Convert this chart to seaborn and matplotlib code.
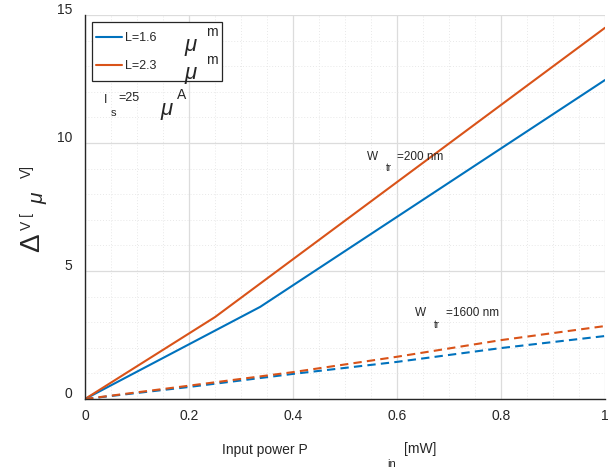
import matplotlib
matplotlib.use("Agg")
import matplotlib.pyplot as plt
from matplotlib.lines import Line2D
from matplotlib.patches import Rectangle
from matplotlib.transforms import ScaledTranslation
import numpy as np
import pandas as pd
import seaborn as sns

# ─── Data ────────────────────────────────────────────────────
p_w200_l16  = [0.0, 0.337, 1.0]
dv_w200_l16 = [0.0, 3.60, 12.46]
p_w200_l23  = [0.0, 0.25, 1.0]
dv_w200_l23 = [0.0, 3.20, 14.50]

p_w1600     = [0.0, 0.2, 0.4, 0.6, 0.8, 1.0]
dv_w1600_l16 = [0.0, 0.47, 0.98, 1.45, 1.99, 2.46]
dv_w1600_l23 = [0.0, 0.52, 1.05, 1.65, 2.30, 2.85]

x_ticks = [0, 0.2, 0.4, 0.6, 0.8, 1]
x_tick_labels = ["0", "0.2", "0.4", "0.6", "0.8", "1"]
y_ticks = [0, 5, 10, 15]
y_tick_labels = ["0", "5", "10", "15"]

BLUE   = "#0072BD"
ORANGE = "#D95319"
W, H = 615, 468

sns.set_style("white")
plt.rcParams["font.family"] = ["Liberation Sans", "DejaVu Sans"]

fig = plt.figure(figsize=(W / 100, H / 100), dpi=100)
ax = fig.add_axes([85 / W, 1 - 399 / H, 520 / W, 384 / H])

series = [
    (p_w200_l16, dv_w200_l16, BLUE, "-"),
    (p_w200_l23, dv_w200_l23, ORANGE, "-"),
    (p_w1600, dv_w1600_l16, BLUE, "--"),
    (p_w1600, dv_w1600_l23, ORANGE, "--"),
]
for xs, ys, col, ls in series:
    df = pd.DataFrame({"P": xs, "dV": ys})
    sns.lineplot(data=df, x="P", y="dV", ax=ax, color=col, linestyle=ls,
                 lw=1.5, sort=False, legend=False)
for ln in ax.get_lines()[2:]:
    ln.set_dashes((4, 2.5))

ax.set_xlim(0, 1)
ax.set_ylim(0, 15)
ax.set_xticks(x_ticks)
ax.set_xticklabels(x_tick_labels)
ax.set_yticks(y_ticks)
ax.set_yticklabels(y_tick_labels)
ax.set_xticks(np.arange(0, 1.0001, 0.05), minor=True)
ax.set_yticks(np.arange(0, 15.001, 1), minor=True)
ax.set_xlabel("")
ax.set_ylabel("")

# ── MATLAB-ish look ──────────────────────────────────────────
ax.grid(which="major", color="#dcdcdc", lw=0.9, ls="-")
ax.grid(which="minor", color="#e8e8e8", lw=0.7, ls=(0, (1, 2)))
ax.set_axisbelow(True)
for s in ["top", "right"]:
    ax.spines[s].set_visible(False)
for s in ["left", "bottom"]:
    ax.spines[s].set_color("#262626")
    ax.spines[s].set_linewidth(1.0)
ax.tick_params(which="major", direction="in", length=4, width=1,
               colors="#262626", labelsize=10, labelcolor="#262626")
ax.tick_params(axis="x", which="major", pad=7)
ax.tick_params(axis="y", which="major", pad=9)
ax.tick_params(which="minor", length=0)
shift = ScaledTranslation(0, 0.06, fig.dpi_scale_trans)
for lab in ax.get_yticklabels():
    lab.set_transform(lab.get_transform() + shift)


def ptext(x, y, s, size=9, **kw):
    kw.setdefault("va", "center")
    kw.setdefault("ha", "left")
    fig.text(x / W, 1 - y / H, s, fontsize=size, color="#262626", **kw)


# ── Legend (frame drawn separately so it can hold the mu symbols) ──
ax.add_patch(Rectangle((92 / W, 1 - 81 / H), 130 / W, 59 / H,
                       transform=fig.transFigure, facecolor="white",
                       edgecolor="#262626", lw=0.9, zorder=3, clip_on=False))
handles = [Line2D([], [], color=BLUE, lw=1.5), Line2D([], [], color=ORANGE, lw=1.5)]
leg = ax.legend(handles, ["L=1.6", "L=2.3"],
                loc="upper left", bbox_to_anchor=(6 / 520, 1 - 12 / 384),
                fontsize=9, handlelength=2.1, handletextpad=0.2,
                labelspacing=1.3, borderpad=0.4, borderaxespad=0,
                frameon=False)
leg.set_zorder(4)
for t in leg.get_texts():
    t.set_color("#262626")

ptext(184, 46, "\u03bc", size=16, style="italic", zorder=5)
ptext(206, 32, "m", size=10, zorder=5)
ptext(184, 74, "\u03bc", size=16, style="italic", zorder=5)
ptext(206, 60, "m", size=10, zorder=5)

# ── Annotations ──────────────────────────────────────────────
ptext(104, 100, "I", size=9)
ptext(111, 113, "s", size=8)
ptext(118, 98, "=25", size=9)
ptext(160, 110, "\u03bc", size=16, style="italic")
ptext(177, 95, "A", size=10)

ptext(367, 157, "W", size=8.5)
ptext(386, 168, "tr", size=7)
ptext(397, 157, "=200 nm", size=8.5)

ptext(415, 313, "W", size=8.5)
ptext(434, 325, "tr", size=7)
ptext(446, 313, "=1600 nm", size=8.5)

# ── Axis labels ──────────────────────────────────────────────
ptext(222, 450, "Input power P", size=10)
ptext(387, 464, "in", size=8)
ptext(404, 449, "[mW]", size=10)

ptext(32, 243, "\u0394", size=20, rotation=90, ha="center")
ptext(27, 222, "V [", size=10, rotation=90, ha="center")
ptext(38, 198, "\u03bc", size=15, style="italic", rotation=90, ha="center")
ptext(27, 172, "V]", size=10, rotation=90, ha="center")

fig.savefig("out.png", dpi=100)
